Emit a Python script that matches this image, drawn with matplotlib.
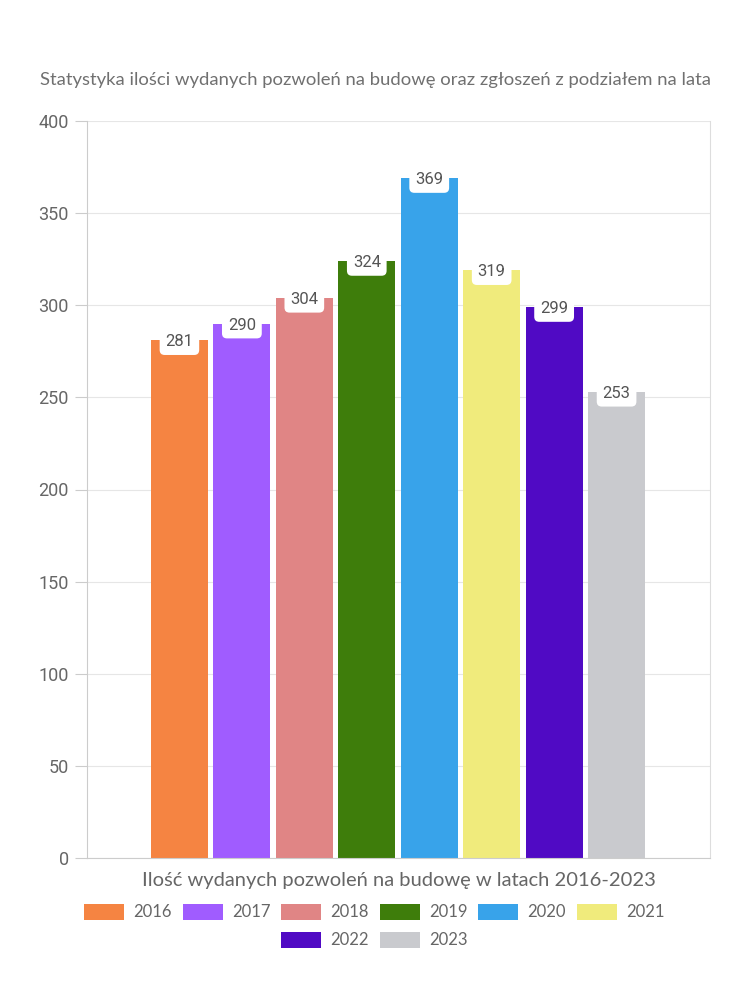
import matplotlib
matplotlib.use("Agg")
import matplotlib.pyplot as plt
from matplotlib.patches import Patch

lata = ["2016", "2017", "2018", "2019", "2020", "2021", "2022", "2023"]
wartosci = [281, 290, 304, 324, 369, 319, 299, 253]
kolory = ["#F58442", "#A05CFF", "#E08585", "#3E7D0B",
          "#38A3EA", "#F0EB7C", "#500AC4", "#C9CACE"]
yticks = [0, 50, 100, 150, 200, 250, 300, 350, 400]

tytul = "Statystyka ilości wydanych pozwoleń na budowę oraz zgłoszeń z podziałem na lata"
opis_x = "Ilość wydanych pozwoleń na budowę w latach 2016-2023"

szary = "#666666"
plt.rcParams['font.family'] = ['Lato', 'DejaVu Sans']

fig = plt.figure(figsize=(7.5, 10), dpi=100)
ax = fig.add_axes([0.116, 0.142, 0.831, 0.737])

pozycje = list(range(len(lata)))
ax.bar(pozycje, wartosci, width=0.91, color=kolory, zorder=2)

# etykiety w bialych ramkach na szczycie slupkow
for x, v in zip(pozycje, wartosci):
    ax.annotate(str(v), (x, v), xytext=(0, -1), textcoords="offset points",
                ha="center", va="center", fontsize=12, color="#555555",
                family="Roboto", zorder=3,
                bbox=dict(boxstyle="round,pad=0.35,rounding_size=0.3",
                          fc="white", ec="none"))

ax.set_xlim(-1.48, 8.5)
ax.set_ylim(0, 400)
ax.set_yticks(yticks)
ax.set_yticklabels([str(t) for t in yticks], family="Roboto", fontsize=13, color=szary)
ax.set_xticks([])
ax.grid(axis="y", color="#e6e6e6", linewidth=0.8, zorder=0)
for s in ["left", "right", "top", "bottom"]:
    ax.spines[s].set_color("#dddddd")
    ax.spines[s].set_linewidth(0.8)
ax.spines["top"].set_visible(False)
ax.spines["left"].set_color("#cccccc")
ax.spines["bottom"].set_color("#cccccc")
ax.tick_params(axis="y", length=9, color="#cccccc", pad=4)

ax.set_xlabel(opis_x, fontsize=14.5, color=szary, labelpad=10)
fig.text(0.5, 0.92, tytul, ha="center", va="center", fontsize=13.3, color="#707070")

uchwyty = [Patch(facecolor=k, edgecolor="none", label=r) for k, r in zip(kolory, lata)]
opcje = dict(frameon=False, fontsize=12, handlelength=2.4, handleheight=1.1,
             columnspacing=0.65, handletextpad=0.55, borderpad=0, borderaxespad=0)
leg1 = fig.legend(handles=uchwyty[:6], loc="center", bbox_to_anchor=(0.499, 0.088),
                  ncol=6, **opcje)
leg2 = fig.legend(handles=uchwyty[6:], loc="center", bbox_to_anchor=(0.499, 0.060),
                  ncol=2, **opcje)
for leg in (leg1, leg2):
    for t in leg.get_texts():
        t.set_color(szary)

fig.savefig("out.png", dpi=100)
